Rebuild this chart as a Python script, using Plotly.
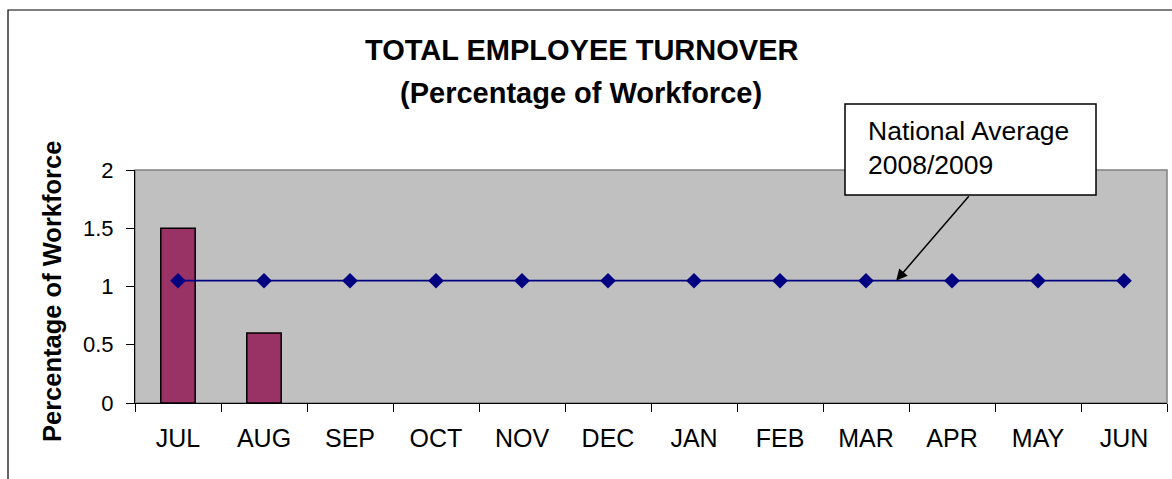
import plotly.graph_objects as go

months = ["JUL", "AUG", "SEP", "OCT", "NOV", "DEC", "JAN", "FEB", "MAR", "APR", "MAY", "JUN"]
turnover = [1.5, 0.6, None, None, None, None, None, None, None, None, None, None]
national_avg = [1.05] * 12
y_ticks = [0, 0.5, 1, 1.5, 2]
y_tick_text = ["0", "0.5", "1", "1.5", "2"]

FONT = "Liberation Sans, Arial, sans-serif"

W, H = 1172, 479
L, R, T, B = 135, 5, 170, 76
PW, PH = W - L - R, H - T - B

def px(x):
    return (x - L) / PW

def py(y):
    return (H - B - y) / PH

fig = go.Figure()
fig.add_trace(go.Bar(
    x=months, y=turnover, width=0.4,
    marker=dict(color="#993366", line=dict(color="black", width=1.5)),
    showlegend=False, hoverinfo="skip",
))
fig.add_trace(go.Scatter(
    x=months, y=national_avg, mode="lines+markers",
    line=dict(color="#000080", width=1.8),
    marker=dict(symbol="diamond", size=12, color="#000080"),
    showlegend=False, hoverinfo="skip",
))

shapes = [
    # outer chart border
    dict(type="rect", xref="paper", yref="paper", x0=px(8), x1=px(1185), y0=py(495), y1=py(10),
         line=dict(color="black", width=1.2), fillcolor="rgba(0,0,0,0)", layer="below"),
    # plot area frame
    dict(type="rect", xref="paper", yref="paper", x0=0, x1=1, y0=0, y1=1,
         line=dict(color="#808080", width=1.5), fillcolor="rgba(0,0,0,0)", layer="below"),
    # callout box
    dict(type="rect", xref="paper", yref="paper", x0=px(845), x1=px(1096), y0=py(195), y1=py(104),
         line=dict(color="black", width=1.5), fillcolor="white", layer="above"),
]

annotations = [
    dict(text="<b>TOTAL EMPLOYEE TURNOVER</b>", xref="paper", yref="paper", x=px(581), y=py(50),
         xanchor="center", yanchor="middle", showarrow=False,
         font=dict(family=FONT, size=29, color="black")),
    dict(text="<b>(Percentage of Workforce)</b>", xref="paper", yref="paper", x=px(581), y=py(93),
         xanchor="center", yanchor="middle", showarrow=False,
         font=dict(family=FONT, size=29, color="black")),
    dict(text="<b>Percentage of Workforce</b>", xref="paper", yref="paper", x=px(52), y=py(292),
         xanchor="center", yanchor="middle", showarrow=False, textangle=-90,
         font=dict(family=FONT, size=25.5, color="black")),
    dict(text="National Average<br>2008/2009", xref="paper", yref="paper", x=px(866), y=py(148),
         xanchor="left", yanchor="middle", align="left", showarrow=False,
         font=dict(family=FONT, size=26.5, color="black")),
    dict(text="", x=8.35, y=1.05, xref="x", yref="y", showarrow=True,
         ax=74, ay=-86, arrowhead=2, arrowsize=1.5, arrowwidth=1.5, arrowcolor="black"),
]

fig.update_layout(
    width=W, height=H,
    margin=dict(l=L, r=R, t=T, b=B, pad=0),
    paper_bgcolor="white", plot_bgcolor="#C0C0C0",
    font=dict(family=FONT, color="black"),
    shapes=shapes, annotations=annotations,
    bargap=0.6,
)
fig.update_xaxes(
    type="category", range=[-0.5, 11.5], showgrid=False, zeroline=False,
    showline=True, linecolor="black", linewidth=1.2,
    ticks="outside", tickson="boundaries", ticklen=8, tickcolor="black", tickwidth=1,
    tickfont=dict(family=FONT, size=25, color="black"), ticklabelstandoff=13,
)
fig.update_yaxes(
    range=[0, 2], tickvals=y_ticks, ticktext=y_tick_text, showgrid=False, zeroline=False,
    showline=True, linecolor="black", linewidth=1.2,
    ticks="outside", ticklen=8, tickcolor="black", tickwidth=1,
    tickfont=dict(family=FONT, size=22, color="black"), ticklabelstandoff=8,
)

fig.write_html("out.html", config={"displayModeBar": False},
               post_script="document.body.style.margin='0';")
